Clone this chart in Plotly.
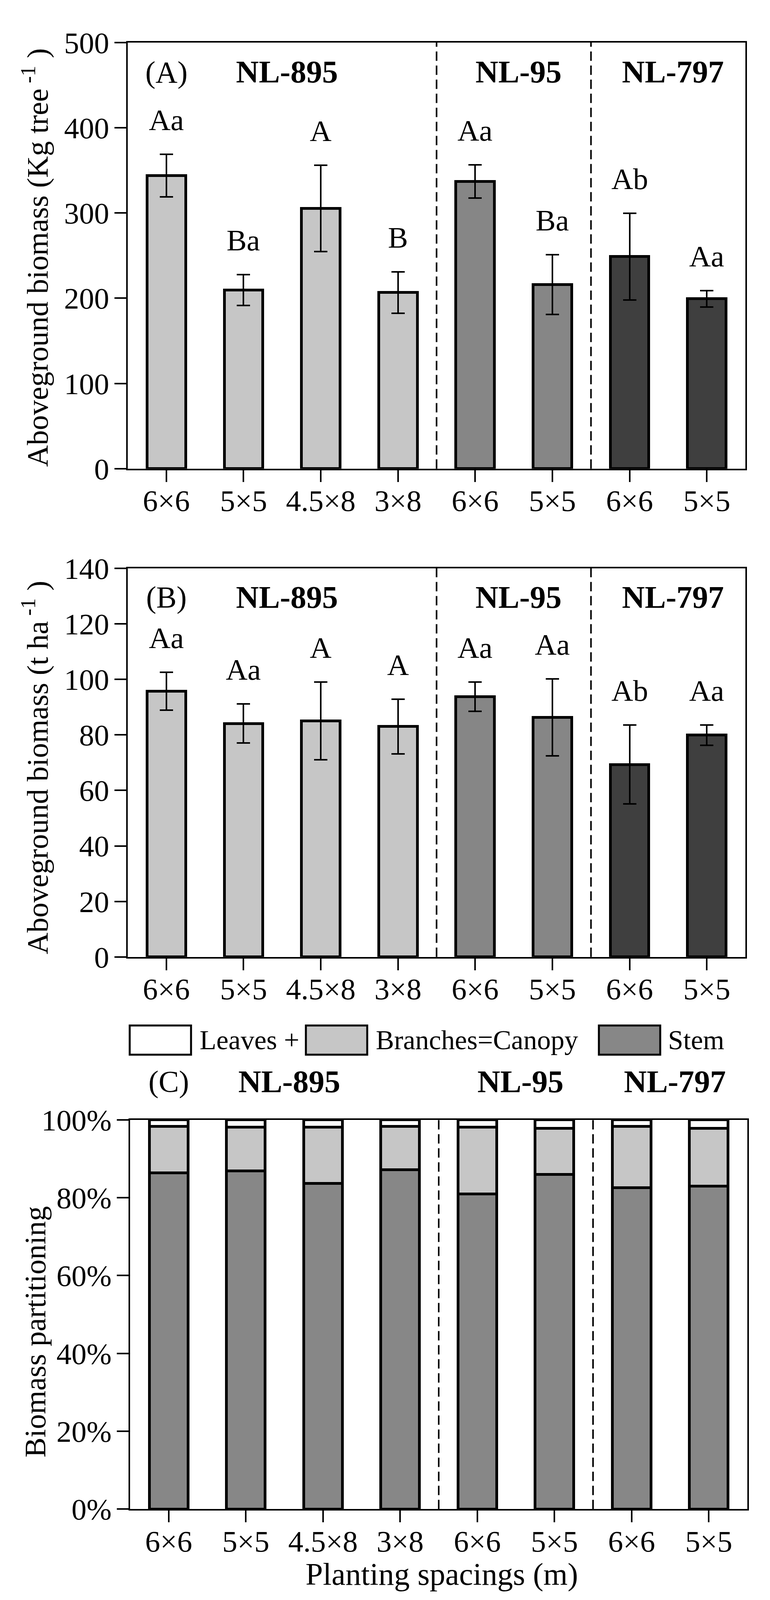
import plotly.graph_objects as go

# reference frame (pixels of the reference picture); layout uses fractions of it
W, H = 1971, 4175
FONT = "Liberation Serif, Times New Roman, serif"

# ---------------- data ----------------
spacings = ["6×6", "5×5", "4.5×8", "3×8", "6×6", "5×5", "6×6", "5×5"]
clones = ["NL-895", "NL-895", "NL-895", "NL-895", "NL-95", "NL-95", "NL-797", "NL-797"]
clone_names = ["NL-895", "NL-95", "NL-797"]
clone_colors = {"NL-895": "#c6c6c6", "NL-95": "#868686", "NL-797": "#3f3f3f"}

tree_mean = [343.7, 209.8, 305.3, 206.7, 337.1, 216.0, 248.8, 199.3]
tree_err = [25.0, 18.1, 50.7, 24.2, 19.5, 34.9, 51.0, 9.5]
tree_letters = ["Aa", "Ba", "A", "B", "Aa", "Ba", "Ab", "Aa"]

ha_mean = [95.7, 84.1, 85.1, 83.0, 93.8, 86.3, 69.3, 79.9]
ha_err = [6.8, 7.0, 14.0, 9.8, 5.3, 13.9, 14.2, 3.7]
ha_letters = ["Aa", "Aa", "A", "A", "Aa", "Aa", "Ab", "Aa"]

stem_pct = [86.4, 86.9, 83.7, 87.2, 81.0, 86.0, 82.6, 83.0]
branch_pct = [11.9, 11.2, 14.4, 11.1, 17.1, 11.8, 15.7, 14.8]
leaf_pct = [1.7, 1.9, 1.9, 1.7, 1.9, 2.2, 1.7, 2.2]

part_names = ["Stem", "Branches", "Leaves"]
part_colors = {"Stem": "#878787", "Branches": "#c6c6c6", "Leaves": "#ffffff"}

# ---------------- helpers ----------------
def px(xp):
    return xp / W

def py(yp):
    return 1 - yp / H

xpos = list(range(len(spacings)))
bar_colors = [clone_colors[c] for c in clones]

fig = go.Figure()

fig.add_trace(go.Bar(
    x=xpos, y=tree_mean, width=0.5, xaxis="x", yaxis="y",
    marker=dict(color=bar_colors, line=dict(color="black", width=7)),
    error_y=dict(type="data", array=tree_err, color="black", thickness=4, width=17),
    showlegend=False,
))
fig.add_trace(go.Bar(
    x=xpos, y=ha_mean, width=0.5, xaxis="x2", yaxis="y2",
    marker=dict(color=bar_colors, line=dict(color="black", width=7)),
    error_y=dict(type="data", array=ha_err, color="black", thickness=4, width=17),
    showlegend=False,
))
for name, vals in zip(part_names, [stem_pct, branch_pct, leaf_pct]):
    fig.add_trace(go.Bar(
        x=xpos, y=vals, width=0.5, xaxis="x3", yaxis="y3", name=name,
        marker=dict(color=part_colors[name], line=dict(color="black", width=7)),
        showlegend=False,
    ))

tickfont = dict(family=FONT, size=77, color="black")

def xaxis_cfg(y_anchor, dom):
    return dict(
        domain=dom, anchor=y_anchor, range=[-0.5, 7.5],
        tickmode="array", tickvals=xpos, ticktext=spacings,
        ticks="outside", ticklen=30, tickwidth=4, tickcolor="black",
        showline=True, linewidth=4, linecolor="black", mirror=True,
        showgrid=False, zeroline=False, tickfont=tickfont,
        ticklabelstandoff=-18, automargin=False,
    )

def yaxis_cfg(x_anchor, dom, rng, dtick, suffix=""):
    return dict(
        domain=dom, anchor=x_anchor, range=rng, dtick=dtick, tick0=0,
        ticks="outside", ticklen=30, tickwidth=4, tickcolor="black",
        showline=True, linewidth=4, linecolor="black", mirror=True,
        showgrid=False, zeroline=False, tickfont=tickfont,
        ticksuffix=suffix, ticklabelstandoff=-2, automargin=False,
    )

# frame of each panel in reference pixels (left, right, top, bottom)
A_box = (327, 1908, 111, 1223)
B_box = (327, 1908, 1483, 2497)
C_box = (333, 1913, 2922, 3938)

def xdom(b):
    return [px(b[0]), px(b[1])]

def ydom(b):
    return [py(b[3]), py(b[2])]

fig.update_layout(
    autosize=True,
    margin=dict(l=0, r=0, t=0, b=0, pad=0, autoexpand=False),
    paper_bgcolor="white", plot_bgcolor="white",
    barmode="stack", bargap=0.5,
    font=dict(family=FONT, color="black"),
    xaxis=xaxis_cfg("y", xdom(A_box)),
    yaxis=yaxis_cfg("x", ydom(A_box), [0, 500], 100),
    xaxis2=xaxis_cfg("y2", xdom(B_box)),
    yaxis2=yaxis_cfg("x2", ydom(B_box), [0, 140], 20),
    xaxis3=xaxis_cfg("y3", xdom(C_box)),
    yaxis3=yaxis_cfg("x3", ydom(C_box), [0, 100], 20, "%"),
)

# group separators (dashed)
bounds = [i + 0.5 for i in range(len(clones) - 1) if clones[i] != clones[i + 1]]
shapes = []
for xr, yr in [("x", "y domain"), ("x2", "y2 domain"), ("x3", "y3 domain")]:
    for bx in bounds:
        shapes.append(dict(type="line", xref=xr, yref=yr, x0=bx, x1=bx, y0=0, y1=1,
                           line=dict(color="black", width=4, dash="24px,12px")))

annotations = []
# significance letters
for xr, yr, means, errs, letters in [("x", "y", tree_mean, tree_err, tree_letters),
                                     ("x2", "y2", ha_mean, ha_err, ha_letters)]:
    for i, (m, e, t) in enumerate(zip(means, errs, letters)):
        annotations.append(dict(x=i, y=m + e, xref=xr, yref=yr, text=t, showarrow=False,
                                xanchor="center", yanchor="bottom", yshift=43,
                                font=dict(family=FONT, size=77, color="black")))

# panel letters and clone names
group_centers = {}
for c in clone_names:
    idx = [i for i, cc in enumerate(clones) if cc == c]
    group_centers[c] = (min(idx) + max(idx)) / 2

for xr, letter, ypix in [("x", "(A)", 188), ("x2", "(B)", 1558), ("x3", "(C)", 2822)]:
    annotations.append(dict(x=0, y=py(ypix), xref=xr, yref="paper", text=letter,
                            xanchor="center", yanchor="middle", showarrow=False,
                            font=dict(family=FONT, size=78, color="black")))
    for c in clone_names:
        annotations.append(dict(x=group_centers[c], xshift=12, y=py(ypix), xref=xr, yref="paper",
                                text="<b>" + c + "</b>", showarrow=False,
                                xanchor="center", yanchor="middle",
                                font=dict(family=FONT, size=81, color="black")))

# axis titles
vtitle_font = dict(family=FONT, size=77, color="black")
for text, ypix in [("Aboveground biomass (Kg tree<sup> -1</sup> )", 672),
                   ("Aboveground biomass (t ha<sup> -1</sup> )", 2003),
                   ("Biomass partitioning", 3475)]:
    annotations.append(dict(x=px(90), y=py(ypix), xref="paper", yref="paper", textangle=-90,
                            xanchor="center", yanchor="middle",
                            text=text, showarrow=False, font=vtitle_font))
annotations.append(dict(x=px(1131), y=py(4108), xref="paper", yref="paper",
                        xanchor="center", yanchor="middle",
                        text="Planting spacings (m)", showarrow=False,
                        font=dict(family=FONT, size=80, color="black")))

# legend (drawn manually to match the swatch size)
legend_items = [("Leaves", "Leaves +", 332, 509),
                ("Branches", "Branches=Canopy", 783, 960),
                ("Stem", "Stem", 1533, 1708)]
for key, label, bx, tx in legend_items:
    shapes.append(dict(type="rect", xref="paper", yref="paper",
                       x0=px(bx), x1=px(bx + 157), y0=py(2752), y1=py(2676),
                       fillcolor=part_colors[key], line=dict(color="black", width=5)))
    annotations.append(dict(x=px(tx), y=py(2714), xref="paper", yref="paper", text=label,
                            xanchor="left", yanchor="middle", showarrow=False,
                            font=dict(family=FONT, size=70, color="black")))

fig.update_layout(shapes=shapes, annotations=annotations)

fig.write_html("out.html", config={"displayModeBar": False, "responsive": True},
               default_width="100vw", default_height="100vh",
               post_script="document.body.style.margin='0px';document.body.style.padding='0px';"
                           "document.body.style.overflow='hidden';")
